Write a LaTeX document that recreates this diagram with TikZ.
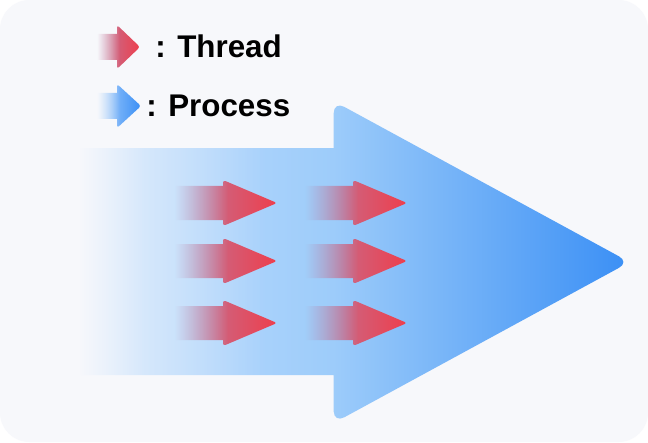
\documentclass[tikz,border=0pt]{standalone}
\usepackage{fontspec}
\setmainfont{Liberation Sans}
\usetikzlibrary{fadings}

\definecolor{bgcol}{HTML}{F7F8FB}
\definecolor{procA}{HTML}{C4DFFD}
\definecolor{procB}{HTML}{9DCCFA}
\definecolor{procC}{HTML}{3A8FF5}
\definecolor{thrA}{HTML}{B97BA0}
\definecolor{thrB}{HTML}{EE3E4C}
\definecolor{legA}{HTML}{A8CFFB}

% shadings and fadings
\pgfdeclarehorizontalshading{procshade}{100bp}{color(0bp)=(procA); color(25bp)=(procA); color(48bp)=(procB); color(75bp)=(procC); color(100bp)=(procC)}
\pgfdeclarehorizontalshading{fadeprocshade}{100bp}{color(0bp)=(transparent!100); color(25bp)=(transparent!100); color(31bp)=(transparent!45); color(42bp)=(transparent!0); color(100bp)=(transparent!0)}
\pgfdeclarefading{fadeproc}{\pgfuseshading{fadeprocshade}}
\pgfdeclarehorizontalshading{fadethrshade}{100bp}{color(0bp)=(transparent!100); color(25bp)=(transparent!100); color(51bp)=(transparent!0); color(100bp)=(transparent!0)}
\pgfdeclarefading{fadethr}{\pgfuseshading{fadethrshade}}

% arrow outline: x start, x head, x tip, y centre, shaft half, head half
\newcommand{\fatarrow}[6]{(#1,{#4-#5}) -- (#2,{#4-#5}) -- (#2,{#4-#5-1}) [rounded corners=2pt] -- (#2,{#4-#6}) -- (#3,#4) -- (#2,{#4+#6}) -- (#2,{#4+#5+1}) [sharp corners] -- (#2,{#4+#5}) -- (#1,{#4+#5}) -- cycle}

\begin{document}
\begin{tikzpicture}[x=0.75pt,y=-0.75pt,
    thread/.style={left color=thrA,right color=thrB,path fading=fadethr},
    legproc/.style={left color=legA,right color=procC,path fading=fadethr},
    label/.style={anchor=base west,inner sep=0pt,font=\bfseries\fontsize{23.5}{28}\selectfont}]
  \useasboundingbox (0,0) rectangle (648,442);
  % background
  \fill[white] (0,0) rectangle (648,442);
  \fill[bgcol,rounded corners=22pt] (0,0) rectangle (648,442);

  % process arrow
  \shade[shading=procshade,path fading=fadeproc]
    (80,148) -- (334,148) -- (334,140) [rounded corners=9pt] -- (334,101) -- (630,262)
    -- (334,423) -- (334,400) [sharp corners] -- (334,375) -- (80,375) -- cycle;

  % threads
  \foreach \yy in {203,261,323}{
    \foreach \xx in {0,130}{
      \shade[thread] \fatarrow{175+\xx}{223+\xx}{277+\xx}{\yy}{17}{23};
    }
  }

  % legend
  \shade[thread] \fatarrow{97}{117}{140}{47}{13}{22};
  \shade[legproc] \fatarrow{97}{117}{141}{106}{13}{22};
  \node[label] (thrtext) at (155,58) {: Thread};
  \node[label] (proctext) at (146,117) {: Process};
\end{tikzpicture}
\end{document}
